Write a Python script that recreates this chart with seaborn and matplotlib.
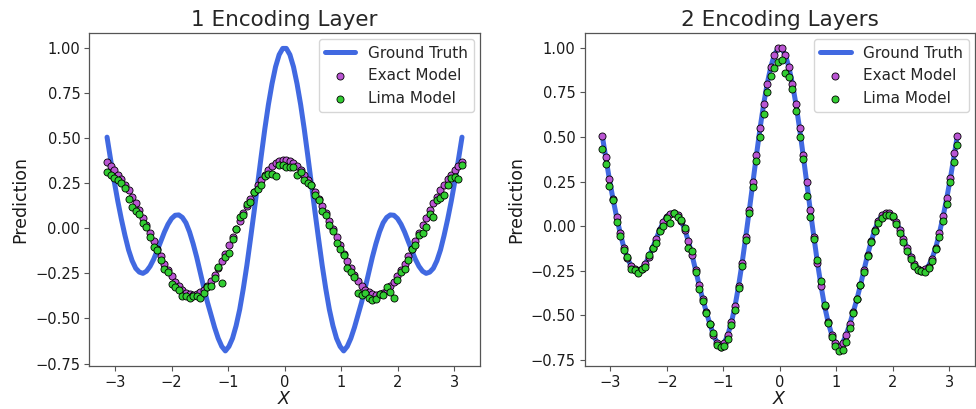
import matplotlib
matplotlib.use("Agg")
import matplotlib.pyplot as plt
import seaborn as sns
import pandas as pd

# ---- data ----
x_vals = [-3.1416, -3.0781, -3.0147, -2.9512, -2.8877, -2.8243, -2.7608, -2.6973, -2.6339, -2.5704,
          -2.5069, -2.4435, -2.3800, -2.3165, -2.2531, -2.1896, -2.1261, -2.0627, -1.9992, -1.9357,
          -1.8723, -1.8088, -1.7453, -1.6819, -1.6184, -1.5549, -1.4915, -1.4280, -1.3646, -1.3011,
          -1.2376, -1.1742, -1.1107, -1.0472, -0.9838, -0.9203, -0.8568, -0.7934, -0.7299, -0.6664,
          -0.6030, -0.5395, -0.4760, -0.4126, -0.3491, -0.2856, -0.2222, -0.1587, -0.0952, -0.0317,
          0.0317, 0.0952, 0.1587, 0.2222, 0.2856, 0.3491, 0.4126, 0.4760, 0.5395, 0.6030,
          0.6664, 0.7299, 0.7934, 0.8568, 0.9203, 0.9838, 1.0472, 1.1107, 1.1742, 1.2376,
          1.3011, 1.3646, 1.4280, 1.4915, 1.5549, 1.6184, 1.6819, 1.7453, 1.8088, 1.8723,
          1.9357, 1.9992, 2.0627, 2.1261, 2.1896, 2.2531, 2.3165, 2.3800, 2.4435, 2.5069,
          2.5704, 2.6339, 2.6973, 2.7608, 2.8243, 2.8877, 2.9512, 3.0147, 3.0781, 3.1416]

ground_truth = [0.505, 0.38, 0.26, 0.15, 0.05, -0.04, -0.12, -0.18, -0.222, -0.243,
                -0.25, -0.238, -0.211, -0.172, -0.123, -0.072, -0.021, 0.022, 0.054, 0.072,
                0.074, 0.06, 0.03, -0.02, -0.085, -0.16, -0.245, -0.33, -0.41, -0.48,
                -0.55, -0.61, -0.655, -0.68, -0.655, -0.61, -0.54, -0.45, -0.335, -0.205,
                -0.06, 0.09, 0.245, 0.40, 0.55, 0.685, 0.80, 0.895, 0.962, 0.997,
                0.997, 0.962, 0.895, 0.80, 0.685, 0.55, 0.40, 0.245, 0.09, -0.06,
                -0.205, -0.335, -0.45, -0.54, -0.61, -0.655, -0.68, -0.655, -0.61, -0.55,
                -0.48, -0.41, -0.33, -0.245, -0.16, -0.085, -0.02, 0.03, 0.06, 0.074,
                0.072, 0.054, 0.022, -0.021, -0.072, -0.123, -0.172, -0.211, -0.238, -0.25,
                -0.243, -0.222, -0.18, -0.12, -0.04, 0.05, 0.15, 0.26, 0.38, 0.505]

exact_1 = [0.37, 0.345, 0.322, 0.298, 0.272, 0.242, 0.21, 0.175, 0.138, 0.099,
           0.058, 0.016, -0.027, -0.07, -0.113, -0.156, -0.196, -0.233, -0.267, -0.297,
           -0.322, -0.343, -0.358, -0.367, -0.37, -0.366, -0.356, -0.34, -0.318, -0.29,
           -0.258, -0.222, -0.182, -0.14, -0.095, -0.05, -0.005, 0.04, 0.083, 0.125,
           0.165, 0.203, 0.238, 0.27, 0.298, 0.322, 0.343, 0.36, 0.372, 0.378,
           0.378, 0.372, 0.36, 0.343, 0.322, 0.298, 0.27, 0.238, 0.203, 0.165,
           0.125, 0.083, 0.04, -0.005, -0.05, -0.095, -0.14, -0.182, -0.222, -0.258,
           -0.29, -0.318, -0.34, -0.356, -0.366, -0.37, -0.367, -0.358, -0.343, -0.322,
           -0.297, -0.267, -0.233, -0.196, -0.156, -0.113, -0.07, -0.027, 0.016, 0.058,
           0.099, 0.138, 0.175, 0.21, 0.242, 0.272, 0.298, 0.322, 0.345, 0.37]

lima_1 = [0.31, 0.295, 0.277, 0.268, 0.252, 0.222, 0.16, 0.12, 0.098, 0.079,
          0.028, 0.006, -0.047, -0.105, -0.123, -0.176, -0.226, -0.243, -0.307, -0.327,
          -0.342, -0.373, -0.373, -0.387, -0.375, -0.376, -0.386, -0.36, -0.328, -0.32,
          -0.278, -0.212, -0.302, -0.16, -0.135, -0.06, -0.005, 0.06, 0.073, 0.135,
          0.145, 0.203, 0.218, 0.24, 0.288, 0.302, 0.303, 0.29, 0.352, 0.348,
          0.338, 0.342, 0.34, 0.293, 0.312, 0.268, 0.25, 0.238, 0.183, 0.155,
          0.095, 0.073, 0.02, -0.015, -0.08, -0.115, -0.15, -0.222, -0.242, -0.268,
          -0.36, -0.368, -0.36, -0.386, -0.396, -0.39, -0.367, -0.368, -0.323, -0.352,
          -0.387, -0.287, -0.243, -0.226, -0.176, -0.113, -0.09, -0.037, -0.024, 0.008,
          0.079, 0.063, 0.155, 0.17, 0.182, 0.242, 0.278, 0.282, 0.275, 0.35]

exact_2 = [0.503, 0.386, 0.265, 0.155, 0.05, -0.041, -0.121, -0.177, -0.225, -0.242,
           -0.25, -0.238, -0.211, -0.172, -0.123, -0.072, -0.021, 0.022, 0.054, 0.07,
           0.074, 0.06, 0.03, -0.02, -0.085, -0.16, -0.245, -0.33, -0.41, -0.48,
           -0.55, -0.61, -0.655, -0.68, -0.655, -0.61, -0.54, -0.45, -0.335, -0.205,
           -0.06, 0.09, 0.245, 0.40, 0.55, 0.685, 0.80, 0.895, 0.962, 0.997,
           0.997, 0.962, 0.895, 0.80, 0.685, 0.55, 0.40, 0.245, 0.09, -0.06,
           -0.205, -0.335, -0.45, -0.54, -0.61, -0.655, -0.68, -0.655, -0.61, -0.55,
           -0.48, -0.41, -0.33, -0.245, -0.16, -0.085, -0.02, 0.03, 0.06, 0.072,
           0.072, 0.054, 0.022, -0.021, -0.072, -0.123, -0.172, -0.211, -0.238, -0.25,
           -0.242, -0.227, -0.186, -0.121, -0.037, 0.056, 0.159, 0.27, 0.41, 0.503]

lima_2 = [0.435, 0.35, 0.225, 0.145, 0.025, -0.055, -0.135, -0.175, -0.24, -0.245,
          -0.265, -0.24, -0.23, -0.16, -0.125, -0.095, -0.03, 0.0, 0.045, 0.02,
          0.075, 0.05, 0.035, -0.01, -0.12, -0.14, -0.255, -0.35, -0.42, -0.485,
          -0.55, -0.6, -0.665, -0.68, -0.675, -0.635, -0.555, -0.47, -0.345, -0.225,
          -0.075, 0.075, 0.22, 0.365, 0.5, 0.63, 0.755, 0.84, 0.885, 0.92,
          0.93, 0.86, 0.835, 0.77, 0.645, 0.5, 0.375, 0.17, 0.05, -0.07,
          -0.19, -0.31, -0.44, -0.545, -0.62, -0.67, -0.70, -0.695, -0.65, -0.57,
          -0.49, -0.41, -0.33, -0.26, -0.17, -0.09, -0.025, 0.02, 0.045, 0.06,
          0.065, 0.055, 0.01, -0.04, -0.09, -0.14, -0.185, -0.225, -0.245, -0.25,
          -0.255, -0.235, -0.195, -0.13, -0.06, 0.03, 0.125, 0.245, 0.36, 0.455]

panel_titles = ["1 Encoding Layer", "2 Encoding Layers"]
series_labels = ["Ground Truth", "Exact Model", "Lima Model"]
y_ticks = [-0.75, -0.50, -0.25, 0.00, 0.25, 0.50, 0.75, 1.00]
x_ticks = [-3, -2, -1, 0, 1, 2, 3]

# ---- styling ----
sns.set_style("ticks")
plt.rcParams["font.family"] = ["DejaVu Sans"]
plt.rcParams["axes.edgecolor"] = "#555555"
plt.rcParams["xtick.color"] = "#555555"
plt.rcParams["ytick.color"] = "#555555"
plt.rcParams["xtick.labelcolor"] = "#1a1a1a"
plt.rcParams["ytick.labelcolor"] = "#1a1a1a"
plt.rcParams["axes.labelcolor"] = "#1a1a1a"

line_color = "royalblue"
exact_color = "mediumorchid"
lima_color = "limegreen"

fig, axes = plt.subplots(1, 2, figsize=(9.76, 4.09), dpi=100)
fig.subplots_adjust(left=0.0915, right=0.999, top=0.9186, bottom=0.105, wspace=0.2685)

panels = [(exact_1, lima_1), (exact_2, lima_2)]
for ax, title, (ex, lm) in zip(axes, panel_titles, panels):
    df = pd.DataFrame({"x": x_vals, "gt": ground_truth, "exact": ex, "lima": lm})
    sns.lineplot(data=df, x="x", y="gt", ax=ax, color=line_color, linewidth=3.6,
                 label=series_labels[0], sort=False, estimator=None, zorder=1)
    sns.scatterplot(data=df, x="x", y="exact", ax=ax, color=exact_color, s=26,
                    edgecolor="black", linewidth=0.6, label=series_labels[1], zorder=2)
    sns.scatterplot(data=df, x="x", y="lima", ax=ax, color=lima_color, s=26,
                    edgecolor="black", linewidth=0.6, label=series_labels[2], zorder=3)
    ax.set_title(title, fontsize=15.5, pad=5)
    ax.set_xlabel("$X$", fontsize=12.5, labelpad=0)
    ax.set_ylabel("Prediction", fontsize=12.5, labelpad=4)
    ax.set_xticks(x_ticks)
    ax.set_yticks(y_ticks)
    ax.tick_params(labelsize=10.5, width=0.8, length=3.5, pad=3)
    for sp in ax.spines.values():
        sp.set_visible(True)
        sp.set_linewidth(0.9)
    ax.legend(loc="upper right", fontsize=11, borderaxespad=0.4)

fig.savefig("out.png", dpi=100)
